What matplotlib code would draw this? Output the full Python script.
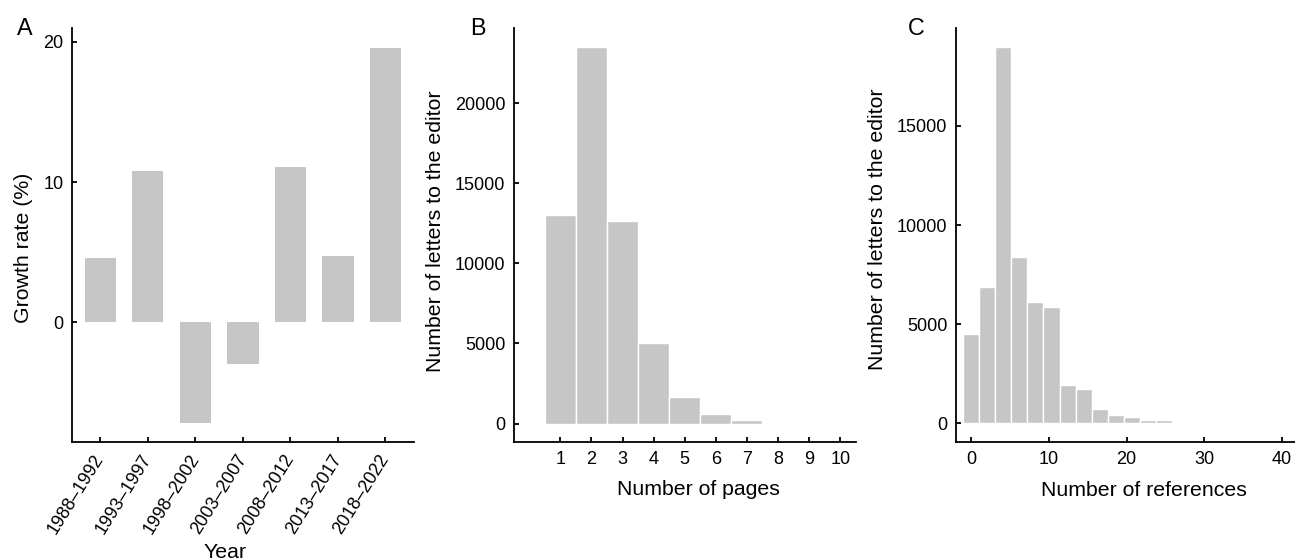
"""
Letters to the editor: growth rate, page counts and reference counts.
"""
import numpy as np
import matplotlib
matplotlib.use("Agg")
import matplotlib.pyplot as plt

plt.rcParams["font.family"] = ["Liberation Sans", "DejaVu Sans"]

# ---------DATA------------
periods = ["1988–1992", "1993–1997", "1998–2002", "2003–2007",
           "2008–2012", "2013–2017", "2018–2022"]
growth_rate = [4.62, 10.78, -7.18, -2.99, 11.09, 4.72, 19.55]

pages = [1, 2, 3, 4, 5, 6, 7, 8, 9, 10]
letters_by_pages = [13016, 23490, 12616, 5051, 1669, 601, 222, 67, 0, 0]

ref_bin_width = 2.07
letters_by_refs = [4515, 6900, 18970, 8390, 6108, 5874, 1940, 1730,
                   700, 430, 315, 185, 180, 40, 25]

GREY = "#c6c6c6"
TICK_SIZE = 13
LABEL_SIZE = 15.3


def style_axis(ax):
    for side in ["top", "right"]:
        ax.spines[side].set_visible(False)
    for side in ["left", "bottom"]:
        ax.spines[side].set_linewidth(1.3)
    ax.tick_params(direction="in", length=3.5, width=1.3, labelsize=TICK_SIZE, pad=6)


fig = plt.figure(figsize=(12.95, 5.6), dpi=100)
axA = fig.add_axes([0.0554, 0.2102, 0.2643, 0.7403])
axB = fig.add_axes([0.3967, 0.2102, 0.2641, 0.7403])
axC = fig.add_axes([0.7380, 0.2102, 0.2641, 0.7403])

# ---------A: growth rate------------
xA = np.arange(len(periods))
axA.bar(xA, growth_rate, width=0.66, color=GREY)
axA.set_xlim(-0.6, 6.6)
axA.set_ylim(-8.55, 21.0)
axA.set_yticks([0, 10, 20])
axA.set_xticks(xA)
style_axis(axA)
axA.set_xticklabels(periods, rotation=58, ha="right", va="center",
                    rotation_mode="anchor")
axA.tick_params(axis="x", pad=10)
axA.set_ylabel("Growth rate (%)", fontsize=LABEL_SIZE)
axA.yaxis.set_label_coords(-0.114, 0.47)
axA.set_xlabel("Year", fontsize=LABEL_SIZE, va="baseline")
axA.xaxis.set_label_coords(0.448, -0.278)

# ---------B: pages------------
axB.bar(pages, letters_by_pages, width=1.0, color=GREY, edgecolor="white", linewidth=1.0)
axB.set_xlim(-0.5, 10.5)
axB.set_ylim(-1165, 24700)
axB.set_xticks(pages)
axB.set_yticks([0, 5000, 10000, 15000, 20000])
style_axis(axB)
axB.set_ylabel("Number of letters to the editor", fontsize=LABEL_SIZE)
axB.yaxis.set_label_coords(-0.201, 0.51)
axB.set_xlabel("Number of pages", fontsize=LABEL_SIZE, va="baseline")
axB.xaxis.set_label_coords(0.539, -0.127)

# ---------C: references------------
ref_centers = np.arange(len(letters_by_refs)) * ref_bin_width
axC.bar(ref_centers, letters_by_refs, width=ref_bin_width, color=GREY,
        edgecolor="white", linewidth=1.0)
axC.set_xlim(-1.97, 42)
axC.set_ylim(-955, 19950)
axC.set_xticks([0, 10, 20, 30, 40])
axC.set_yticks([0, 5000, 10000, 15000])
style_axis(axC)
axC.set_ylabel("Number of letters to the editor", fontsize=LABEL_SIZE)
axC.yaxis.set_label_coords(-0.202, 0.515)
axC.set_xlabel("Number of references", fontsize=LABEL_SIZE, va="baseline")
axC.xaxis.set_label_coords(0.551, -0.13)

# panel letters
for letter, px in [("A", 24.7), ("B", 477.5), ("C", 916.7)]:
    fig.text(px / 1295, 1 - 35 / 560, letter, fontsize=16.8, ha="center", va="baseline")

fig.savefig("out.png", dpi=100)
